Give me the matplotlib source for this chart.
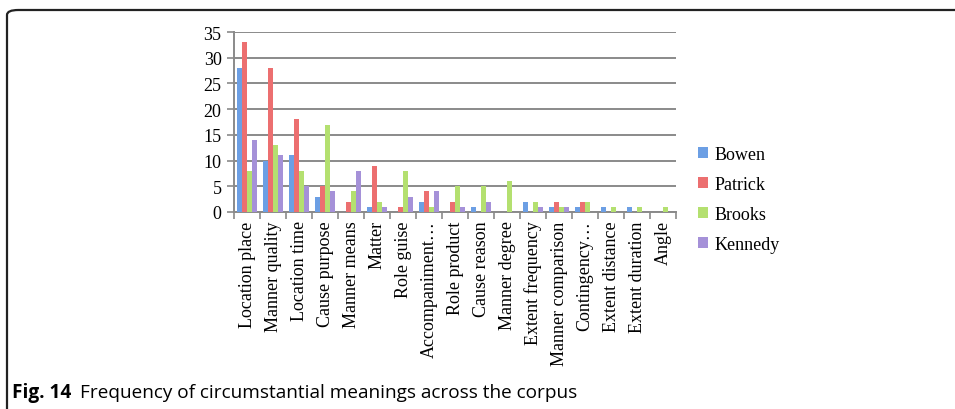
import matplotlib
matplotlib.use("Agg")
import matplotlib.pyplot as plt
import numpy as np
from matplotlib.patches import FancyBboxPatch

categories = ["Location place", "Manner quality", "Location time", "Cause purpose",
              "Manner means", "Matter", "Role guise", "Accompaniment…", "Role product",
              "Cause reason", "Manner degree", "Extent frequency", "Manner comparison",
              "Contingency…", "Extent distance", "Extent duration", "Angle"]
bowen   = [28, 10, 11, 3, 0, 1, 0, 2, 0, 1, 0, 2, 1, 1, 1, 1, 0]
patrick = [33, 28, 18, 5, 2, 9, 1, 4, 2, 0, 0, 0, 2, 2, 0, 0, 0]
brooks  = [8, 13, 8, 17, 4, 2, 8, 1, 5, 5, 6, 2, 1, 2, 1, 1, 1]
kennedy = [14, 11, 5, 4, 8, 1, 3, 4, 1, 2, 0, 1, 1, 0, 0, 0, 0]
series_names = ["Bowen", "Patrick", "Brooks", "Kennedy"]
colors = ["#6c9fe4", "#ec6f70", "#b4e070", "#a591d8"]
yticks = [0, 5, 10, 15, 20, 25, 30, 35]

W, H = 955, 410
fig = plt.figure(figsize=(W / 100, H / 100), dpi=100)

serif = "Liberation Serif"
fs = 13

# frame around the figure
frame = FancyBboxPatch((7 / W, -20 / H), 1.05, (H - 11 + 20) / H,
                       boxstyle="round,pad=0,rounding_size=0.012",
                       transform=fig.transFigure, fill=False,
                       edgecolor="#222222", linewidth=1.6, clip_on=False)
fig.patches.append(frame)

left, right, top, bottom = 234, 676, 33, 213
ax = fig.add_axes([left / W, 1 - bottom / H, (right - left) / W, (bottom - top) / H])

x = np.arange(len(categories))
bw = 0.19
data = [bowen, patrick, brooks, kennedy]
for i, (vals, name, c) in enumerate(zip(data, series_names, colors)):
    ax.bar(x + (i - 1.5) * bw, vals, width=bw, color=c, label=name, zorder=3)

ax.set_xlim(-0.5, len(categories) - 0.5)
ax.set_ylim(0, 35)
ax.set_yticks(yticks)
ax.set_yticklabels([str(v) for v in yticks], fontfamily=serif, fontsize=fs)
ax.yaxis.grid(True, color="#8a8a8a", linewidth=1.4, zorder=0)
ax.set_axisbelow(True)
for s in ["top", "right"]:
    ax.spines[s].set_visible(False)
for s in ["left", "bottom"]:
    ax.spines[s].set_color("#8a8a8a")
    ax.spines[s].set_linewidth(1.4)

ax.set_xticks(x)
ax.set_xticklabels(categories, rotation=90, fontfamily=serif, fontsize=fs)
ax.tick_params(axis="x", length=0, pad=6)
ax.set_xticks(np.arange(-0.5, len(categories) + 0.5, 1), minor=True)
ax.tick_params(axis="x", which="minor", length=5, color="#8a8a8a", width=1.2)
ax.tick_params(axis="y", length=5, color="#8a8a8a", width=1.2, pad=4)

leg = fig.legend(loc="upper left", bbox_to_anchor=(682 / W, 1 - 131 / H),
                 frameon=False, prop={"family": serif, "size": fs},
                 handlelength=0.55, handleheight=0.55, handletextpad=0.35,
                 labelspacing=0.72)

fig.text(12 / W, 1 - 393 / H, "Fig. 14", fontfamily="Open Sans", fontweight="bold",
         fontsize=13.7, va="center", ha="left")
fig.text(80 / W, 1 - 393 / H, "Frequency of circumstantial meanings across the corpus",
         fontfamily="Open Sans", fontsize=13.7, va="center", ha="left")

fig.savefig("out.png", dpi=100)
